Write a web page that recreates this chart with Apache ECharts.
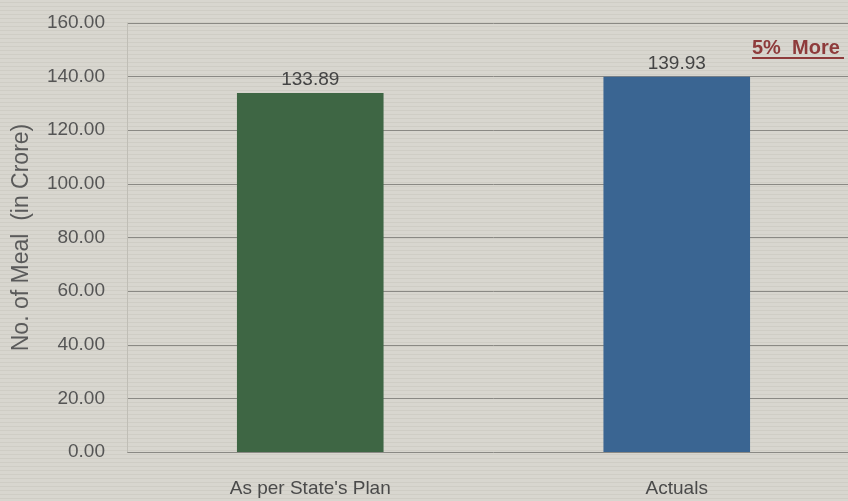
<!DOCTYPE html>
<html>
<head>
<meta charset="utf-8">
<script src="https://cdn.jsdelivr.net/npm/echarts@6/dist/echarts.min.js"></script>
<style>html,body{margin:0;padding:0;overflow:hidden;width:848px;height:501px;}#c{width:860px;height:501px;}</style>
</head>
<body>
<div id="c"></div>
<script>
const categories = ["As per State's Plan", "Actuals"];
const values = [133.89, 139.93];
const barColors = ['#3e6644', '#3a6592'];
const yAxisName = 'No. of Meal  (in Crore)';
const yMin = 0, yMax = 160, yStep = 20;
const noteText = '5%  More';

// subtle horizontal stripe background
const pc = document.createElement('canvas');
pc.width = 8; pc.height = 4;
const pctx = pc.getContext('2d');
pctx.fillStyle = '#d8d6cf'; pctx.fillRect(0, 0, 8, 4);
pctx.fillStyle = '#cfcdc5'; pctx.fillRect(0, 2, 8, 1);

const chart = echarts.init(document.getElementById('c'), null, {renderer: 'canvas'});
const font = 'Liberation Sans, Arial, sans-serif';
chart.setOption({
  backgroundColor: {image: pc, repeat: 'repeat'},
  animation: false,
  grid: {left: 127, top: 23, right: 0, bottom: 49, containLabel: false},
  xAxis: {
    type: 'category',
    data: categories,
    axisLine: {show: false},
    axisTick: {show: false},
    axisLabel: {color: '#4a4a4a', fontSize: 19, fontFamily: font, margin: 27}
  },
  yAxis: {
    type: 'value',
    min: yMin, max: yMax, interval: yStep,
    name: yAxisName,
    nameLocation: 'middle',
    nameGap: 94,
    nameTextStyle: {color: '#5a5a5a', fontSize: 23, fontFamily: font},
    axisLine: {show: true, lineStyle: {color: '#c0beb6'}},
    axisTick: {show: false},
    splitLine: {lineStyle: {color: '#8a8984', width: 1}},
    axisLabel: {color: '#555', fontSize: 19, fontFamily: font, margin: 22,
      formatter: v => v.toFixed(2)}
  },
  series: [{
    type: 'bar',
    data: values.map((v, i) => ({value: v, itemStyle: {color: barColors[i]}})),
    barWidth: '40%',
    label: {show: true, position: 'top', distance: 4, color: '#444', fontSize: 19, fontFamily: font,
      formatter: p => p.value.toFixed(2)}
  }],
  graphic: [
    {type: 'text', left: 752, top: 38, style: {text: noteText, fill: '#8e3b3b', font: 'bold 20px ' + font}},
    {type: 'line', shape: {x1: 752, y1: 58, x2: 844, y2: 58}, style: {stroke: '#8e3b3b', lineWidth: 2}}
  ]
});
</script>
</body>
</html>
